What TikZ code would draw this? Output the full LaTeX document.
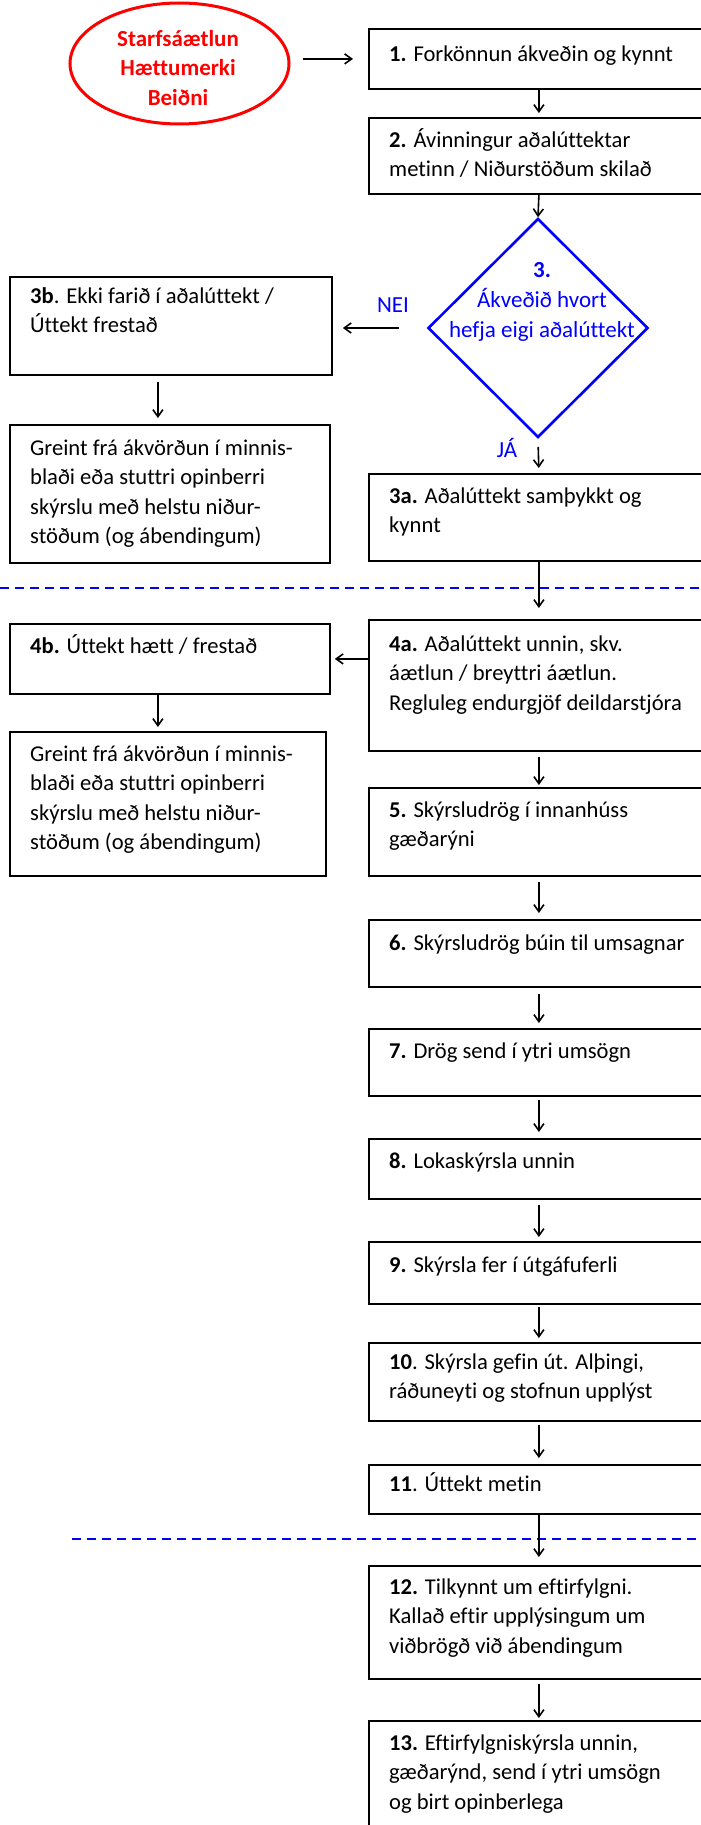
\documentclass[tikz,border=0pt]{standalone}
\usepackage{fontspec}
\setmainfont{Carlito}[Ligatures={NoCommon}]
\usetikzlibrary{shapes.geometric,arrows.meta}
\definecolor{fred}{RGB}{255,0,0}
\definecolor{fblue}{RGB}{0,0,255}
\newcommand{\fs}{\rule{0pt}{20pt}}
\begin{document}
\begin{tikzpicture}[x=1pt,y=-1pt,
 box/.style={draw=black, line width=1.8pt, rectangle, inner sep=0pt, anchor=north west},
 rbox/.style={box, minimum width=340pt},
 lbox/.style={box, minimum width=320pt},
 txt/.style={anchor=north west, inner sep=0pt, align=left, font=\fontsize{22.6}{29.5}\selectfont},
 arr/.style={line width=1.6pt, -{Straight Barb[length=7pt,width=10pt]}},
 sep/.style={fblue, line width=2pt, dash pattern=on 9pt off 6pt},
 bluetxt/.style={text=fblue, inner sep=0pt, font=\fontsize{23}{30}\selectfont}]
\useasboundingbox (0,0) rectangle (701,1825);
\clip (0,0) rectangle (701,1825);

% separators
\coordinate (s1a) at (0,588);
\coordinate (s1b) at (701,588);
\coordinate (s2a) at (72,1539);
\coordinate (s2b) at (701,1539);
\draw[sep] (s1a) -- (s1b);
\draw[sep] (s2a) -- (s2b);

% start ellipse
\node[ellipse, draw=fred, line width=3pt, minimum width=219pt, minimum height=121pt, inner sep=0pt] (e) at (179.5,63.5) {};
\node[font=\fontsize{23}{29.5}\selectfont\bfseries, text=fred, align=center, inner sep=0pt, anchor=north] (et) at (178,26) {\fs Starfsáætlun\\Hættumerki\\Beiðni};

% right column
\node[rbox, minimum height=60pt] (b1) at (368,28) {};
\node[txt] (t1) at ([shift={(21pt,-13pt)}]b1.north west) {\fs\textbf{1.} Forkönnun ákveðin og kynnt};

\node[rbox, minimum height=76pt] (b2) at (368,117) {};
\node[txt] (t2) at ([shift={(21pt,-10pt)}]b2.north west) {\fs\textbf{2.} Ávinningur aðalúttektar\\metinn / Niðurstöðum skilað};

\node[diamond, draw=fblue, line width=2.6pt, minimum width=220pt, minimum height=219pt, inner sep=0pt] (d3) at (538,328) {};
\node[bluetxt, align=center, anchor=north] (t3) at (542,257) {\fs\textbf{3.}\\Ákveðið hvort\\hefja eigi aðalúttekt};

\node[bluetxt, anchor=base] (nei) at (393,312) {NEI};
\node[bluetxt, anchor=base] (ja) at (507,457) {JÁ};

\node[rbox, minimum height=87pt] (b3a) at (368,473) {};
\node[txt] (t3a) at ([shift={(21pt,-10pt)}]b3a.north west) {\fs\textbf{3a.} Aðalúttekt samþykkt og\\kynnt};

\node[rbox, minimum height=131pt] (b4a) at (368,619) {};
\node[txt] (t4a) at ([shift={(21pt,-12pt)}]b4a.north west) {\fs\textbf{4a.} Aðalúttekt unnin, skv.\\áætlun / breyttri áætlun.\\Regluleg endurgjöf deildarstjóra};

\node[rbox, minimum height=88pt] (b5) at (368,787) {};
\node[txt] (t5) at ([shift={(21pt,-10pt)}]b5.north west) {\fs\textbf{5.} Skýrsludrög í innanhúss\\gæðarýni};

\node[rbox, minimum height=67pt] (b6) at (368,919) {};
\node[txt] (t6) at ([shift={(21pt,-11pt)}]b6.north west) {\fs\textbf{6.} Skýrsludrög búin til umsagnar};

\node[rbox, minimum height=67pt] (b7) at (368,1028) {};
\node[txt] (t7) at ([shift={(21pt,-10pt)}]b7.north west) {\fs\textbf{7.} Drög send í ytri umsögn};

\node[rbox, minimum height=60pt] (b8) at (368,1138) {};
\node[txt] (t8) at ([shift={(21pt,-10pt)}]b8.north west) {\fs\textbf{8.} Lokaskýrsla unnin};

\node[rbox, minimum height=62pt] (b9) at (368,1241) {};
\node[txt] (t9) at ([shift={(21pt,-11pt)}]b9.north west) {\fs\textbf{9.} Skýrsla fer í útgáfuferli};

\node[rbox, minimum height=78pt] (b10) at (368,1342) {};
\node[txt] (t10) at ([shift={(21pt,-7pt)}]b10.north west) {\fs\textbf{10}. Skýrsla gefin út. Alþingi,\\ráðuneyti og stofnun upplýst};

\node[rbox, minimum height=49pt] (b11) at (368,1464) {};
\node[txt] (t11) at ([shift={(21pt,-7pt)}]b11.north west) {\fs\textbf{11}. Úttekt metin};

\node[rbox, minimum height=113pt] (b12) at (368,1565) {};
\node[txt] (t12) at ([shift={(21pt,-9pt)}]b12.north west) {\fs\textbf{12.} Tilkynnt um eftirfylgni.\\Kallað eftir upplýsingum um\\viðbrögð við ábendingum};

\node[rbox, minimum height=130pt] (b13) at (368,1720) {};
\node[txt] (t13) at ([shift={(21pt,-10pt)}]b13.north west) {\fs\textbf{13.} Eftirfylgniskýrsla unnin,\\gæðarýnd, send í ytri umsögn\\og birt opinberlega};

% left column
\node[lbox, minimum width=322pt, minimum height=98pt] (b3b) at (9,276) {};
\node[txt] (t3b) at ([shift={(21pt,-7pt)}]b3b.north west) {\fs\textbf{3b}. Ekki farið í aðalúttekt /\\Úttekt frestað};

\node[lbox, minimum height=138pt] (g1) at (9,424) {};
\node[txt] (tg1) at ([shift={(21pt,-11pt)}]g1.north west) {\fs Greint frá ákvörðun í minnis-\\blaði eða stuttri opinberri\\skýrslu með helstu niður-\\stöðum (og ábendingum)};

\node[lbox, minimum height=70pt] (b4b) at (9,623) {};
\node[txt] (t4b) at ([shift={(21pt,-10pt)}]b4b.north west) {\fs\textbf{4b.} Úttekt hætt / frestað};

\node[lbox, minimum width=316pt, minimum height=144pt] (g2) at (9,731) {};
\node[txt] (tg2) at ([shift={(21pt,-10pt)}]g2.north west) {\fs Greint frá ákvörðun í minnis-\\blaði eða stuttri opinberri\\skýrslu með helstu niður-\\stöðum (og ábendingum)};

% connectors
\draw[arr, shorten <=12pt, shorten >=15pt] (e.east |- b1.west) -- (b1.west);
\draw[arr, shorten >=4pt] (b1.south) -- (b2.north);
\draw[arr] (b2.south) -- (d3.north);
\draw[arr, shorten <=28pt, shorten >=10pt] (d3.west) -- (d3.west -| b3b.east);
\draw[arr, shorten <=8pt, shorten >=5pt] (d3.south) -- (b3a.north);
\draw[arr, shorten <=6pt, shorten >=6pt] ([xshift=-13pt]b3b.south) -- ([xshift=-13pt]b3b.south |- g1.north);
\draw[arr, shorten >=11pt] (b3a.south) -- (b4a.north);
\draw[arr, shorten >=4pt] (b4a.west |- b4b.east) -- (b4b.east);
\draw[arr, shorten >=4pt] ([xshift=-12pt]b4b.south) -- ([xshift=-12pt]b4b.south |- g2.north);
\draw[arr, shorten <=5pt, shorten >=2pt] (b4a.south) -- (b5.north);
\draw[arr, shorten <=5pt, shorten >=6pt] (b5.south) -- (b6.north);
\draw[arr, shorten <=6pt, shorten >=5pt] (b6.south) -- (b7.north);
\draw[arr, shorten <=3pt, shorten >=6pt] (b7.south) -- (b8.north);
\draw[arr, shorten <=5pt, shorten >=4pt] (b8.south) -- (b9.north);
\draw[arr, shorten <=2pt, shorten >=4pt] (b9.south) -- (b10.north);
\draw[arr, shorten <=3pt, shorten >=6pt] (b10.south) -- (b11.north);
\draw[arr, shorten >=8pt] (b11.south) -- (b12.north);
\draw[arr, shorten <=4pt, shorten >=2pt] (b12.south) -- (b13.north);
\end{tikzpicture}
\end{document}
